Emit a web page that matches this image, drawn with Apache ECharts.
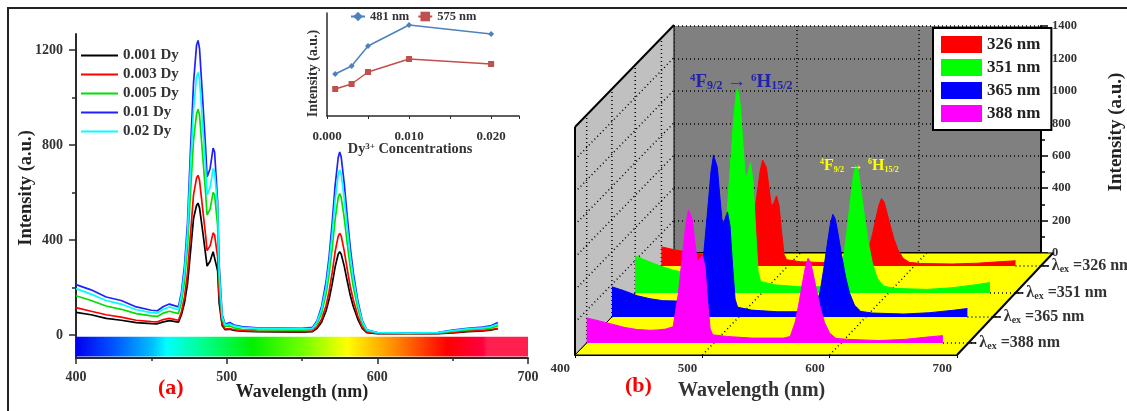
<!DOCTYPE html>
<html><head><meta charset="utf-8">
<style>html,body{margin:0;padding:0;background:#fff}#c{width:1127px;height:411px}</style>
<script src="https://cdn.jsdelivr.net/npm/echarts@6/dist/echarts.min.js"></script>
</head><body><div id="c"></div>
<script>
// ---------- data: panel (a) emission spectra ----------
const wavesA = [400,410,420,430,440,450,454,458,462,468,470,472,474,476,478,480,481,482,484,486,487,489,491,492,494,495,497,499,502,505,510,520,550,557,560,563,566,568,570,572,574,575,576,578,580,582,584,587,590,593,600,620,640,650,660,670,675,680];
const dy001 = [95,85,70,62,52,48,47,55,60,54,85,135,215,350,490,545,555,535,440,340,290,310,350,345,270,135,40,22,24,19,16,14,12,14,28,54,102,151,214,287,340,350,341,291,228,168,121,67,28,10,6,5,6,9,14,17,20,26];
const dy003 = [115,100,85,75,62,56,55,65,70,62,98,160,260,425,590,660,672,650,535,420,355,375,430,420,330,165,48,25,27,22,18,16,14,17,34,66,124,184,261,351,415,428,417,355,278,205,148,81,34,13,7,6,7,11,16,19,22,28];
const dy005 = [165,145,122,108,90,80,78,92,100,90,140,225,370,600,820,930,950,925,760,600,505,530,600,590,460,230,68,36,38,30,24,22,20,24,48,92,173,256,363,488,577,595,580,494,387,286,205,113,48,18,9,7,9,15,22,26,29,38];
const dy01  = [212,190,160,145,118,104,102,120,130,118,180,290,470,780,1060,1220,1240,1205,1000,790,665,700,787,770,560,300,85,45,52,42,35,30,28,32,60,120,225,330,470,630,745,770,750,640,500,370,265,145,60,22,10,8,10,20,28,33,38,52];
const dy02  = [195,172,145,130,106,94,92,108,118,106,165,265,430,710,950,1085,1105,1075,890,705,590,620,700,685,540,265,78,42,46,38,32,28,26,28,55,108,202,299,424,570,674,695,678,577,452,334,240,132,56,21,10,8,10,18,26,30,34,46];
const namesA = ['0.001 Dy','0.003 Dy','0.005 Dy','0.01 Dy','0.02 Dy'];
// ---------- data: inset ----------
const concentrations = [0.001,0.003,0.005,0.010,0.020];
const inset481 = [42,50,70,91,82];
const inset575 = [27,32,44,57,52];
// ---------- data: panel (b) excitation-resolved spectra ----------
const wavesB = [400,410,420,430,440,450,456,462,468,472,475,478,480,481,483,485,487,489,491,493,495,497,499,502,510,530,555,560,564,567,570,572,574,576,578,581,584,587,591,596,605,630,650,660,670,680];
const ex326 = [117,100,85,73,65,62,64,72,82,235,405,580,650,660,605,485,365,390,430,370,210,70,38,35,26,20,20,32,103,199,306,375,414,394,338,247,163,100,48,22,15,12,17,22,27,32];
const ex351 = [228,195,165,140,125,122,125,138,160,445,770,1100,1240,1253,1150,920,700,740,800,690,395,130,70,65,50,38,38,60,196,377,581,710,784,747,642,468,310,189,91,42,28,22,32,42,52,64];
const ex365 = [185,160,130,112,100,98,100,112,125,360,620,890,995,1006,920,740,570,600,645,560,320,110,60,55,42,32,32,48,157,303,466,570,630,600,515,376,248,151,73,34,24,18,26,34,42,52];
const ex388 = [154,135,115,95,82,78,80,85,100,300,520,730,815,827,760,620,500,520,535,470,260,90,50,48,40,30,30,40,130,250,385,470,520,495,425,310,205,125,60,28,22,15,22,30,38,45];
const namesB = ['326 nm','351 nm','365 nm','388 nm'];
const ticksY = [0,400,800,1200], minorY = [200,600,1000];
const ticksZ = [0,200,400,600,800,1000,1200,1400];

// ---------- layout ----------
const serif = '"Liberation Serif","Times New Roman",serif';
const dark = '#2a2a2a';
const depths = [0.873,0.608,0.373,0.118];
const colorsB = ['#ff0000','#00ff00','#0000ff','#ff00ff'];
const frontLeft=575, frontW=382, frontBase=355, wallH=228, shiftX=99, shiftY=102;
const zip=(xs,ys)=>xs.map((x,i)=>[x,ys[i]]);
const plain=v=>String(v);
const hiddenX=(g)=>({type:'value',gridIndex:g,min:400,max:700,show:false});
const hiddenY=(g)=>({type:'value',gridIndex:g,min:0,max:1400,show:false});

const grids=[
 {left:76,top:34,width:452,height:324},
 {left:327,top:13,width:192,height:103},
 {left:674,top:26,width:379,height:227,show:true,backgroundColor:'#808080',borderWidth:0},
 {left:frontLeft,top:frontBase-wallH,width:frontW,height:wallH}
];
depths.forEach(d=>grids.push({left:frontLeft+shiftX*d,top:frontBase-shiftY*d-wallH,width:frontW-3*d,height:wallH}));

const xAxes=[
 {type:'value',gridIndex:0,min:400,max:700,interval:100,position:'bottom',
  axisLine:{onZero:false,lineStyle:{color:dark,width:2}},axisTick:{show:true,length:6,lineStyle:{color:dark,width:1.5}},
  minorTick:{show:true,splitNumber:2,length:3,lineStyle:{color:dark,width:1.5}},splitLine:{show:false},
  axisLabel:{color:'#333',fontFamily:serif,fontWeight:'bold',fontSize:14,margin:12,formatter:plain},
  name:'Wavelength (nm)',nameLocation:'middle',nameGap:25,nameMoveOverlap:false,nameTextStyle:{color:'#222',fontFamily:serif,fontWeight:'bold',fontSize:18}},
 {type:'value',gridIndex:1,min:0,max:0.0234,interval:0.01,position:'bottom',
  axisLine:{onZero:false,lineStyle:{color:dark,width:1.5}},axisTick:{show:true,length:3,lineStyle:{color:dark}},
  minorTick:{show:true,splitNumber:2,length:3,lineStyle:{color:dark}},splitLine:{show:false},
  axisLabel:{color:'#333',fontFamily:serif,fontWeight:'bold',fontSize:13,margin:14,formatter:v=>v.toFixed(3)},
  name:'Dy{s|3+} Concentrations',nameLocation:'middle',nameGap:26,nameMoveOverlap:false,
  nameTextStyle:{color:'#333',fontFamily:serif,fontWeight:'bold',fontSize:14.3,padding:[0,26,0,0],rich:{s:{fontSize:9,fontFamily:serif,fontWeight:'bold',color:'#333',verticalAlign:'top'}}}},
 {type:'value',gridIndex:2,min:400,max:700,interval:100,position:'bottom',
  axisLine:{onZero:false,lineStyle:{color:'#000',width:2}},axisTick:{show:false},axisLabel:{show:false},
  splitLine:{show:true,lineStyle:{color:'#000',type:[1,3],width:1.5}}},
 {type:'value',gridIndex:3,min:400,max:700,interval:100,position:'bottom',
  axisLine:{onZero:false,lineStyle:{color:'#000',width:2}},axisTick:{show:true,length:3,lineStyle:{color:'#000'}},splitLine:{show:false},
  axisLabel:{color:'#333',fontFamily:serif,fontWeight:'bold',fontSize:13,margin:7,align:'right',padding:[0,5,0,0],formatter:plain}}
];
const yAxes=[
 {type:'value',gridIndex:0,min:-97,max:1267,position:'left',
  axisLine:{onZero:false,lineStyle:{color:dark,width:2}},axisTick:{show:true,length:7,customValues:ticksY,lineStyle:{color:dark,width:1.5}},splitLine:{show:false},
  axisLabel:{customValues:ticksY,color:'#333',fontFamily:serif,fontWeight:'bold',fontSize:14,margin:13,formatter:plain},
  name:'Intensity (a.u.)',nameLocation:'middle',nameGap:40,nameMoveOverlap:false,nameTextStyle:{color:'#222',fontFamily:serif,fontWeight:'bold',fontSize:18.5,padding:[0,0,0,16]}},
 {type:'value',gridIndex:0,min:-97,max:1267,position:'left',axisLine:{show:false},
  axisTick:{show:true,length:4,customValues:minorY,lineStyle:{color:dark,width:1.5}},axisLabel:{show:false},splitLine:{show:false}},
 {type:'value',gridIndex:1,min:0,max:103,position:'left',
  axisLine:{show:true,onZero:false,lineStyle:{color:dark,width:1.5}},axisTick:{show:false},axisLabel:{show:false},splitLine:{show:false},
  name:'Intensity (a.u.)',nameLocation:'middle',nameGap:7,nameMoveOverlap:false,nameTextStyle:{color:'#333',fontFamily:serif,fontWeight:'bold',fontSize:14,padding:[0,18,0,0]}},
 {type:'value',gridIndex:2,min:0,max:1400,interval:200,position:'right',
  axisLine:{show:true,onZero:false,lineStyle:{color:'#000',width:2}},axisTick:{show:true,length:7,lineStyle:{color:'#000',width:1.5}},
  minorTick:{show:true,splitNumber:2,length:4,lineStyle:{color:'#000',width:1.5}},
  splitLine:{show:true,lineStyle:{color:'#000',type:[1,3],width:1.5}},
  axisLabel:{color:'#333',fontFamily:serif,fontWeight:'bold',fontSize:12.5,margin:11,formatter:plain},
  name:'Intensity (a.u.)',nameLocation:'middle',nameGap:66,nameMoveOverlap:false,nameTextStyle:{color:'#222',fontFamily:serif,fontWeight:'bold',fontSize:19,padding:[0,0,0,15]}},
 hiddenY(3)
];
depths.forEach((d,i)=>{xAxes.push(hiddenX(4+i));yAxes.push(hiddenY(4+i));});

// Oblique projection of the box: wavelength and intensity go through the front grid's axes, depth shears them.
function frame(params,api){
 const p=(w,v,d)=>{const c=api.coord([w,v]);const k=shiftX-3*(w-400)/300;return [c[0]+k*d,c[1]-shiftY*d];};
 const poly=(pts,fill)=>({type:'polygon',shape:{points:pts},style:{fill,stroke:'#000',lineWidth:1}});
 const line=(a,b,lw,dash)=>({type:'line',shape:{x1:a[0],y1:a[1],x2:b[0],y2:b[1]},style:{stroke:'#000',lineWidth:lw||1.5,lineDash:dash||null}});
 const dot=[1,3]; const kids=[];
 kids.push(poly([p(400,0,0),p(400,1400,0),p(400,1400,1),p(400,0,1)],'#c0c0c0'));
 kids.push(poly([p(400,0,0),p(700,0,0),p(700,0,1),p(400,0,1)],'#ffff00'));
 ticksZ.slice(1,-1).forEach(v=>kids.push(line(p(400,v,0),p(400,v,1),1.5,dot)));
 depths.forEach(d=>{kids.push(line(p(400,0,d),p(400,1400,d),1.5,dot));kids.push(line(p(400,0,d),p(400,0,d+0.07),1.5));});
 [500,600].forEach(w=>kids.push(line(p(w,0,0),p(w,0,1),1.5,dot)));
 kids.push(line(p(400,0,0),p(400,1400,0),2));kids.push(line(p(400,1400,0),p(400,1400,1),2));
 kids.push(line(p(700,0,0),p(700,0,1),2));
 depths.forEach((d,i)=>{
  const e=p(700,0,d);
  kids.push(line(p(680,0,d),[e[0]+8,e[1]],1.5,dot));
  kids.push(line(e,[e[0]+8,e[1]],1.5));
  kids.push({type:'text',x:e[0]+11,y:e[1],style:{text:'{l|\u03bb}{e|ex}{l| ='+namesB[i]+'}',verticalAlign:'middle',rich:{
    l:{fontFamily:serif,fontWeight:'bold',fontSize:16,fill:'#333'},
    e:{fontFamily:serif,fontWeight:'bold',fontSize:10,fill:'#333',verticalAlign:'bottom'}}}});
 });
 return {type:'group',children:kids};
}

const lineA=(name,vals,color)=>({type:'line',name,data:zip(wavesA,vals),xAxisIndex:0,yAxisIndex:0,symbol:'none',silent:true,z:3,
  lineStyle:{color,width:1.7},itemStyle:{color}});
const seriesA=[
 lineA(namesA[0],dy001,'#000000'),lineA(namesA[1],dy003,'#ff0000'),lineA(namesA[2],dy005,'#00e000'),
 lineA(namesA[3],dy01,'#2020ff'),lineA(namesA[4],dy02,'#00ffff')];
seriesA[0].markArea={silent:true,z:1,data:[[{xAxis:400,yAxis:-91,itemStyle:{color:{type:'linear',x:0,y:0,x2:1,y2:0,colorStops:[
 {offset:0,color:'#0000f0'},{offset:.08,color:'#0050ff'},{offset:.17,color:'#00c0ff'},{offset:.2,color:'#00ffff'},{offset:.28,color:'#00ff90'},
 {offset:.39,color:'#00f000'},{offset:.5,color:'#70ff00'},{offset:.6,color:'#ffff00'},{offset:.7,color:'#ff9000'},{offset:.82,color:'#ff0000'},
 {offset:.9,color:'#ff0040'},{offset:.91,color:'#ff2050'},{offset:1,color:'#ff2050'}]}}},{xAxis:700,yAxis:-8}]]};
const seriesInset=[
 {type:'line',name:'481 nm',data:zip(concentrations,inset481),xAxisIndex:1,yAxisIndex:2,symbol:'diamond',symbolSize:6,lineStyle:{color:'#4f81bd',width:1.5},itemStyle:{color:'#4f81bd'},z:3},
 {type:'line',name:'575 nm',data:zip(concentrations,inset575),xAxisIndex:1,yAxisIndex:2,symbol:'rect',symbolSize:6,lineStyle:{color:'#c0504d',width:1.5},itemStyle:{color:'#c0504d'},z:3}];
const seriesB=[ex326,ex351,ex365,ex388].map((vals,i)=>({type:'line',name:namesB[i],data:zip(wavesB,vals),xAxisIndex:4+i,yAxisIndex:5+i,
  symbol:'none',silent:true,z:5+i,lineStyle:{color:colorsB[i],width:1},itemStyle:{color:colorsB[i]},areaStyle:{color:colorsB[i],opacity:1}}));
const seriesFrame={type:'custom',coordinateSystem:'cartesian2d',xAxisIndex:3,yAxisIndex:4,data:[[400,0]],renderItem:frame,silent:true,z:2,clip:false};

const option={
 animation:false,backgroundColor:'#fff',
 grid:grids,xAxis:xAxes,yAxis:yAxes,
 legend:[
  {data:namesA,left:81,top:48,orient:'vertical',padding:0,icon:'rect',itemWidth:37,itemHeight:2,itemGap:4,selectedMode:false,
   textStyle:{color:'#333',fontFamily:serif,fontWeight:'bold',fontSize:15,lineHeight:14}},
  {data:['481 nm','575 nm'],left:350,top:10,orient:'horizontal',padding:0,itemWidth:14,itemHeight:12,itemGap:8,selectedMode:false,
   textStyle:{color:'#333',fontFamily:serif,fontWeight:'bold',fontSize:12.5}},
  {data:namesB,left:933,top:28,orient:'vertical',padding:[8,11,8,8],itemWidth:41,itemHeight:17,itemGap:6,icon:'rect',selectedMode:false,
   backgroundColor:'#fff',borderColor:'#000',borderWidth:2,z:20,
   textStyle:{color:'#222',fontFamily:serif,fontWeight:'bold',fontSize:17}}
 ],
 graphic:{elements:[
  {type:'rect',z:50,silent:true,shape:{x:8,y:8,width:1130,height:420},style:{fill:'none',stroke:'#222',lineWidth:2}},
  {type:'text',z:50,left:158,top:377,style:{text:'(a)',fill:'#ff0000',font:'bold 22px '+serif}},
  {type:'text',z:50,left:625,top:375,style:{text:'(b)',fill:'#ff0000',font:'bold 22px '+serif}},
  {type:'text',z:50,left:678,top:381,style:{text:'Wavelength (nm)',fill:'#333',font:'bold 20px '+serif}},
  {type:'text',z:50,left:690,top:73,style:{text:'{s|4}{b|F}{u|9/2}{b| \u2192 }{s|6}{b|H}{u|15/2}',rich:{
    b:{fontFamily:serif,fontWeight:'bold',fontSize:19,fill:'#2222aa'},
    s:{fontFamily:serif,fontWeight:'bold',fontSize:11,fill:'#2222aa',verticalAlign:'top'},
    u:{fontFamily:serif,fontWeight:'bold',fontSize:12,fill:'#2222aa',verticalAlign:'bottom'}}}},
  {type:'text',z:50,left:820,top:158,style:{text:'{s|4}{b|F}{u|9/2}{b| \u2192 }{s|6}{b|H}{u|15/2}',rich:{
    b:{fontFamily:serif,fontWeight:'bold',fontSize:16,fill:'#ffff00'},
    s:{fontFamily:serif,fontWeight:'bold',fontSize:8,fill:'#ffff00',verticalAlign:'top'},
    u:{fontFamily:serif,fontWeight:'bold',fontSize:8,fill:'#ffff00',verticalAlign:'bottom'}}}}
 ]},
 series:[seriesFrame,...seriesA,...seriesInset,...seriesB]
};
const chart=echarts.init(document.getElementById('c'),null,{renderer:'canvas'});
chart.setOption(option);
</script></body></html>
